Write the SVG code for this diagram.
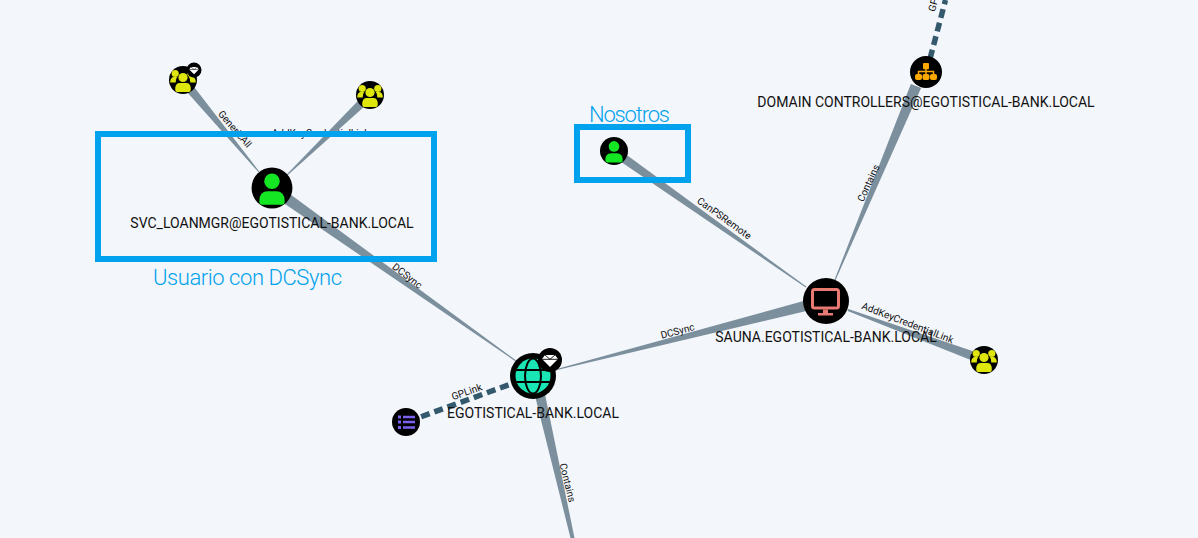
<svg xmlns="http://www.w3.org/2000/svg" width="1198" height="538" viewBox="0 0 1198 538">
<style>
.e{fill:#7b8f9d}
.d{fill:none;stroke:#34596d;stroke-width:5.500;stroke-dasharray:9 5}
.el{font:10px Roboto,"Liberation Sans",sans-serif;fill:#111;text-anchor:middle}
.nl{font:14px Roboto,"Liberation Sans",sans-serif;fill:#111;text-anchor:middle}
.an{font:22px Roboto,"Liberation Sans",sans-serif;font-weight:300;fill:#00a2ed}
.box{fill:none;stroke:#00a2ed;stroke-width:6}
.bg{fill:#000}
.ug{fill:#dfe60b}
.u{fill:#14e624}
.dc{fill:#ffa800}
</style>
<defs>
<g id="grp"><circle r="14" class="bg"/><circle cy="-2.500" r="4.600" class="ug"/><circle cx="-7.800" cy="-6.500" r="3.600" class="ug"/><circle cx="7.800" cy="-6.500" r="3.600" class="ug"/><path class="ug" d="M-12.800 2.500q0-5.500 4-5.500h3q-1.500 1.500-1.500 5.500zM12.800 2.500q0-5.500-4-5.500h-3q1.500 1.500 1.500 5.500zM-7.800 9.500q0-6.500 4-6.500h7.600q4 0 4 6.500q0 2.500-2 2.500h-11.600q-2 0-2-2.500z"/></g>
<g id="usr"><circle r="14" class="bg"/><circle cy="-4.600" r="5.300" class="u"/><path class="u" d="M-8.700 9q0-6.700 6-6.700h5.400q6 0 6 6.700q0 2.400-2 2.400h-13.400q-2 0-2-2.400z"/></g>
<g id="gem"><path fill="#fff" d="M-5-5h10l3 4-8 8-8-8z"/><path fill="none" stroke="#000" stroke-width=".9" d="M-8-.7h16M-5-5l5 4.300 5-4.300"/></g>
</defs>
<rect width="1198" height="538" fill="#f3f6fb"/>
<g id="connectors">
<polygon class="e" points="189.500,81.100 182.500,86.900 258.600,172.300 259.400,171.700"/>
<polygon class="e" points="369.100,102.200 362.900,95.800 286.700,174.600 287.300,175.400"/>
<polygon class="e" points="289.200,193.500 282.800,202.500 515.700,361.400 516.300,360.600"/>
<polygon class="e" points="621.600,151.300 616.400,158.700 805.700,287.400 806.300,286.600"/>
<polygon class="e" points="806.400,311 803.600,301 554.900,369.500 555.100,370.500"/>
<polygon class="e" points="974.600,351.800 971.400,360.200 847.700,310.900 848.300,309.100"/>
<polygon class="e" points="921.100,88.100 910.900,83.900 834.500,279.800 835.500,280.200"/>
<polygon class="e" points="544.900,393.800 535.100,396.200 570.500,538 574.500,538"/>
<path class="d" d="M408,421.500L533,376"/>
<path class="d" d="M926.500,72L945.500,0"/>
<text class="el" transform="translate(232.300,131.300) rotate(49)">GenericAll</text>
<text class="el" transform="translate(320.500,137)">AddKeyCredentialLink</text>
<text class="el" transform="translate(405.200,278.500) rotate(38)">DCSync</text>
<text class="el" transform="translate(722.300,221) rotate(36)">CanPSRemote</text>
<text class="el" transform="translate(678.400,334.400) rotate(-15)">DCSync</text>
<text class="el" transform="translate(906.400,326) rotate(21)">AddKeyCredentialLink</text>
<text class="el" transform="translate(467.800,395) rotate(-19)">GPLink</text>
<text class="el" transform="translate(564.300,483.500) rotate(76)">Contains</text>
<text class="el" transform="translate(871.500,184.500) rotate(-65)">Contains</text>
<text class="el" transform="translate(939,-3) rotate(-74)">GPLink</text>
</g>
<g id="node-group-a"><use href="#grp" x="183" y="80"/><circle cx="194" cy="70" r="7.500" class="bg"/><use href="#gem" transform="translate(194,70) scale(.6)"/></g>
<g id="node-group-b"><use href="#grp" x="370" y="95"/></g>
<g id="node-svc"><use href="#usr" transform="translate(272,188) scale(1.460)"/><text class="nl" x="272" y="228">SVC_LOANMGR@EGOTISTICAL-BANK.LOCAL</text></g>
<g id="node-nosotros"><use href="#usr" x="614" y="151"/></g>
<g id="node-sauna"><circle cx="826" cy="301" r="23" class="bg"/><rect x="812.500" y="289.500" width="26" height="18.500" rx="2" fill="#000" stroke="#e87a72" stroke-width="3"/><path fill="#e87a72" d="M823,309.500h5v3.500h5v2.500h-15v-2.500h5z"/><text class="nl" x="826" y="342">SAUNA.EGOTISTICAL-BANK.LOCAL</text></g>
<g id="node-group-c"><use href="#grp" x="984" y="360"/></g>
<g id="node-dc"><circle cx="926" cy="72" r="16" class="bg"/><rect class="dc" x="923" y="63" width="6" height="6.300" rx="1"/><path fill="none" stroke="#ffa800" stroke-width="1.500" d="M926,69v6M918.500,75v-3.500h15v3.500"/><rect class="dc" x="915" y="74" width="7" height="6" rx="2"/><rect class="dc" x="922.500" y="74" width="7" height="6" rx="2"/><rect class="dc" x="930" y="74" width="7" height="6" rx="2"/><text class="nl" x="926" y="107">DOMAIN CONTROLLERS@EGOTISTICAL-BANK.LOCAL</text></g>
<g id="node-domain"><circle cx="533" cy="376" r="23" class="bg"/><circle cx="533" cy="376" r="17.500" fill="#19e6b4"/><path fill="none" stroke="#000" stroke-width="2" d="M516,370h34M516,382h34"/><ellipse cx="533" cy="376" rx="8" ry="17.500" fill="none" stroke="#000" stroke-width="2"/><circle cx="550" cy="360" r="12" class="bg"/><use href="#gem" transform="translate(550,360)"/><text class="nl" x="533" y="418">EGOTISTICAL-BANK.LOCAL</text></g>
<g id="node-ou"><circle cx="406" cy="422" r="14" class="bg"/><path fill="#7b62f0" d="M398,415.500h3v3h-3zM398,420.500h3v3h-3zM398,426h3v3h-3zM403,415.700h12v2.600h-12zM403,420.700h12v2.600h-12zM403,426.200h12v2.600h-12z"/></g>
<g id="annotations">
<rect class="box" x="98" y="134" width="336" height="125"/>
<rect class="box" x="577" y="127" width="111" height="53"/>
<text class="an" x="153" y="285" textLength="189">Usuario con DCSync</text>
<text class="an" x="589" y="122" textLength="81">Nosotros</text>
</g>
</svg>
